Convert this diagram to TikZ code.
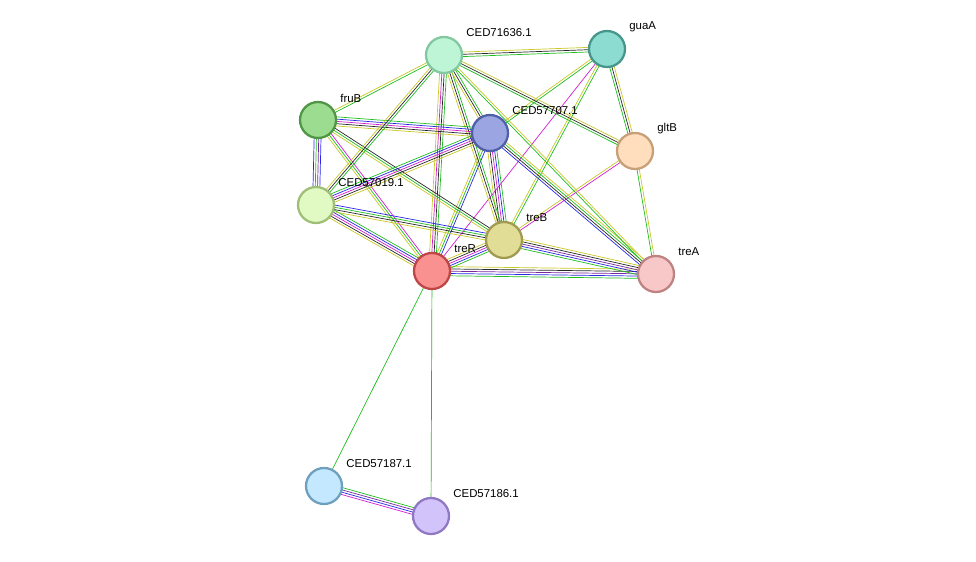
\documentclass[tikz,border=0pt]{standalone}
\usepackage{fontspec}
\setmainfont{Liberation Sans}
\usetikzlibrary{calc,backgrounds}
\definecolor{tm}{RGB}{200,200,40}
\definecolor{nb}{RGB}{30,190,30}
\definecolor{co}{RGB}{40,40,230}
\definecolor{ex}{RGB}{210,30,210}
\definecolor{hm}{RGB}{120,40,160}
\definecolor{cx}{RGB}{40,40,40}
\newcommand\lnk[4]{%
  \foreach \c [count=\i] in {#4} {%
    \pgfmathsetmacro\o{(\i-(#3+1)/2)*1.3}
    \draw[\c] ($(#1)!\o pt!90:(#2)$) -- ($(#2)!\o pt!-90:(#1)$);
  }}
\begin{document}
\begin{tikzpicture}[x=0.02cm,y=-0.02cm,line width=0.6pt,
  prot/.style={circle,minimum size=0.72cm,inner sep=0pt,line width=1.3pt},
  lbl/.style={anchor=west,font=\fontsize{6.5}{8}\selectfont}]
  \useasboundingbox (0,0) rectangle (976,561);

  \node[prot,fill={rgb,255:red,190;green,245;blue,215},draw={rgb,255:red,130;green,200;blue,160}] (ced71636) at (444,55) {};
  \node[prot,fill={rgb,255:red,140;green,220;blue,210},draw={rgb,255:red,70;green,150;blue,140}] (guaA) at (607,49) {};
  \node[prot,fill={rgb,255:red,155;green,220;blue,145},draw={rgb,255:red,80;green,150;blue,70}] (fruB) at (318,120) {};
  \node[prot,fill={rgb,255:red,155;green,165;blue,225},draw={rgb,255:red,80;green,95;blue,170}] (ced57707) at (490,133) {};
  \node[prot,fill={rgb,255:red,255;green,222;blue,190},draw={rgb,255:red,200;green,160;blue,120}] (gltB) at (635,151) {};
  \node[prot,fill={rgb,255:red,225;green,250;blue,195},draw={rgb,255:red,160;green,190;blue,120}] (ced57019) at (316,205) {};
  \node[prot,fill={rgb,255:red,225;green,220;blue,150},draw={rgb,255:red,160;green,155;blue,80}] (treB) at (504,240) {};
  \node[prot,fill={rgb,255:red,250;green,145;blue,145},draw={rgb,255:red,190;green,70;blue,70}] (treR) at (432,271) {};
  \node[prot,fill={rgb,255:red,248;green,200;blue,200},draw={rgb,255:red,190;green,130;blue,130}] (treA) at (656,274) {};
  \node[prot,fill={rgb,255:red,195;green,232;blue,255},draw={rgb,255:red,110;green,160;blue,190}] (ced57187) at (324,486) {};
  \node[prot,fill={rgb,255:red,210;green,195;blue,250},draw={rgb,255:red,145;green,120;blue,195}] (ced57186) at (431,516) {};

  \foreach \n/\t in {ced71636/CED71636.1,guaA/guaA,fruB/fruB,ced57707/CED57707.1,
      gltB/gltB,ced57019/CED57019.1,treB/treB,treR/treR,treA/treA,
      ced57187/CED57187.1,ced57186/CED57186.1}
    \node[lbl] (l-\n) at ($(\n)+(16,-22)$) {\t};

  \begin{scope}[on background layer]
    % links
    \lnk{treR}{ced57186}{1}{nb}
    \lnk{treR}{ced57187}{1}{nb}
    \lnk{ced57187}{ced57186}{4}{ex,co,hm,nb}
    \lnk{treR}{treA}{5}{nb,co,hm,cx,tm}
    \lnk{treR}{treB}{5}{nb,co,ex,cx,tm}
    \lnk{treR}{ced57019}{5}{nb,co,ex,cx,tm}
    \lnk{treR}{fruB}{3}{ex,nb,tm}
    \lnk{treR}{ced57707}{3}{co,nb,tm}
    \lnk{treR}{ced71636}{4}{nb,cx,ex,tm}
    \lnk{treR}{guaA}{1}{ex}
    \lnk{treB}{treA}{5}{nb,co,hm,cx,tm}
    \lnk{treB}{ced57707}{5}{nb,co,ex,cx,tm}
    \lnk{treB}{ced71636}{3}{nb,cx,tm}
    \lnk{treB}{guaA}{2}{nb,tm}
    \lnk{treB}{gltB}{2}{ex,tm}
    \lnk{treB}{fruB}{3}{cx,nb,tm}
    \lnk{treB}{ced57019}{4}{co,nb,cx,tm}
    \lnk{ced57707}{treA}{4}{co,cx,nb,tm}
    \lnk{ced57707}{ced57019}{5}{nb,co,ex,cx,tm}
    \lnk{ced57707}{fruB}{5}{nb,co,ex,cx,tm}
    \lnk{ced57707}{ced71636}{3}{nb,cx,tm}
    \lnk{ced57707}{guaA}{2}{nb,tm}
    \lnk{ced57019}{fruB}{4}{co,hm,nb,co}
    \lnk{ced57019}{ced71636}{3}{nb,cx,tm}
    \lnk{fruB}{ced71636}{2}{nb,tm}
    \lnk{ced71636}{guaA}{3}{nb,cx,tm}
    \lnk{ced71636}{gltB}{3}{nb,cx,tm}
    \lnk{ced71636}{treA}{2}{nb,tm}
    \lnk{guaA}{gltB}{3}{nb,cx,tm}
    \lnk{gltB}{treA}{2}{nb,tm}
  \end{scope}
\end{tikzpicture}
\end{document}
